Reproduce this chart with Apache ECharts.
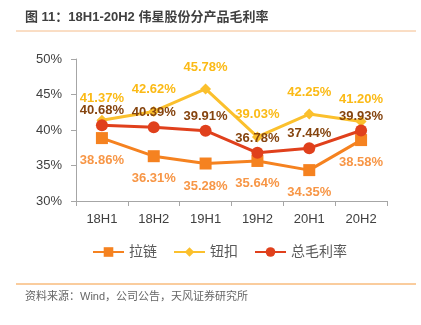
<!DOCTYPE html>
<html><head><meta charset="utf-8">
<script src="https://cdn.jsdelivr.net/npm/echarts@6/dist/echarts.min.js"></script>
<style>html,body{margin:0;padding:0;background:#fff}#c{width:421px;height:325px}</style>
</head><body><div id="c"></div>
<script>
const categories = ['18H1','18H2','19H1','19H2','20H1','20H2'];
const zipper = [38.86, 36.31, 35.28, 35.64, 34.35, 38.58];
const button = [41.37, 42.62, 45.78, 39.03, 42.25, 41.20];
const total = [40.68, 40.39, 39.91, 36.78, 37.44, 39.93];
const seriesNames = ['拉链','钮扣','总毛利率'];
const yTicks = [30, 35, 40, 45, 50];

const font = '"Liberation Sans", "Noto Sans CJK SC", sans-serif';
const chart = echarts.init(document.getElementById('c'), null, {renderer:'canvas'});
const lbl = (color, pos, dist) => ({show:true, position:pos, distance:dist, color:color, fontSize:13, fontWeight:'bold', fontFamily:font, formatter: p => p.value.toFixed(2)+'%'});
chart.setOption({
  animation:false,
  textStyle:{fontFamily:font},
  graphic:[
    {type:'text', left:25, top:11, style:{text:'图 11：18H1-20H2 伟星股份分产品毛利率', fontSize:13, fontWeight:'bold', fill:'#404040', fontFamily:font}},
    {type:'line', shape:{x1:16,y1:31,x2:416,y2:31}, style:{stroke:'#F5BC8A', lineWidth:1}},
    {type:'line', shape:{x1:16,y1:284,x2:416,y2:284}, style:{stroke:'#F59A3C', lineWidth:1}},
    {type:'text', left:25, top:291, style:{text:'资料来源：Wind，公司公告，天风证券研究所', fontSize:11, fill:'#666', fontFamily:font}}
  ],
  grid:{left:76, right:34, top:59, bottom:124},
  legend:{top:240, left:87, itemWidth:31, itemHeight:12, itemGap:16, textStyle:{fontSize:14, color:'#595959'}, data:seriesNames},
  xAxis:{type:'category', data:categories, boundaryGap:true,
    axisLine:{lineStyle:{color:'#A6A6A6'}}, axisTick:{show:true, lineStyle:{color:'#A6A6A6'}},
    axisLabel:{color:'#404040', fontSize:13, margin:12}},
  yAxis:{type:'value', min:30, max:50, interval:5,
    axisLine:{show:true, lineStyle:{color:'#A6A6A6'}}, axisTick:{show:true, lineStyle:{color:'#A6A6A6'}},
    splitLine:{show:false},
    axisLabel:{color:'#404040', fontSize:13, margin:14, formatter: v => yTicks.includes(v) ? v+'%' : ''}},
  series:[
    {name:seriesNames[0], type:'line', data:zipper, symbol:'rect', symbolSize:12, lineStyle:{width:3, color:'#F58220'}, itemStyle:{color:'#F58220'}, label:lbl('#F79646','bottom',10), z:2},
    {name:seriesNames[1], type:'line', data:button, symbol:'diamond', symbolSize:11, lineStyle:{width:3, color:'#FBC02D'}, itemStyle:{color:'#FBC02D'}, label:lbl('#FBBA16','top',10), z:3},
    {name:seriesNames[2], type:'line', data:total, symbol:'circle', symbolSize:12, lineStyle:{width:3, color:'#E0401C'}, itemStyle:{color:'#E0401C'}, label:lbl('#85440F','top',2), z:4}
  ]
});
</script></body></html>
